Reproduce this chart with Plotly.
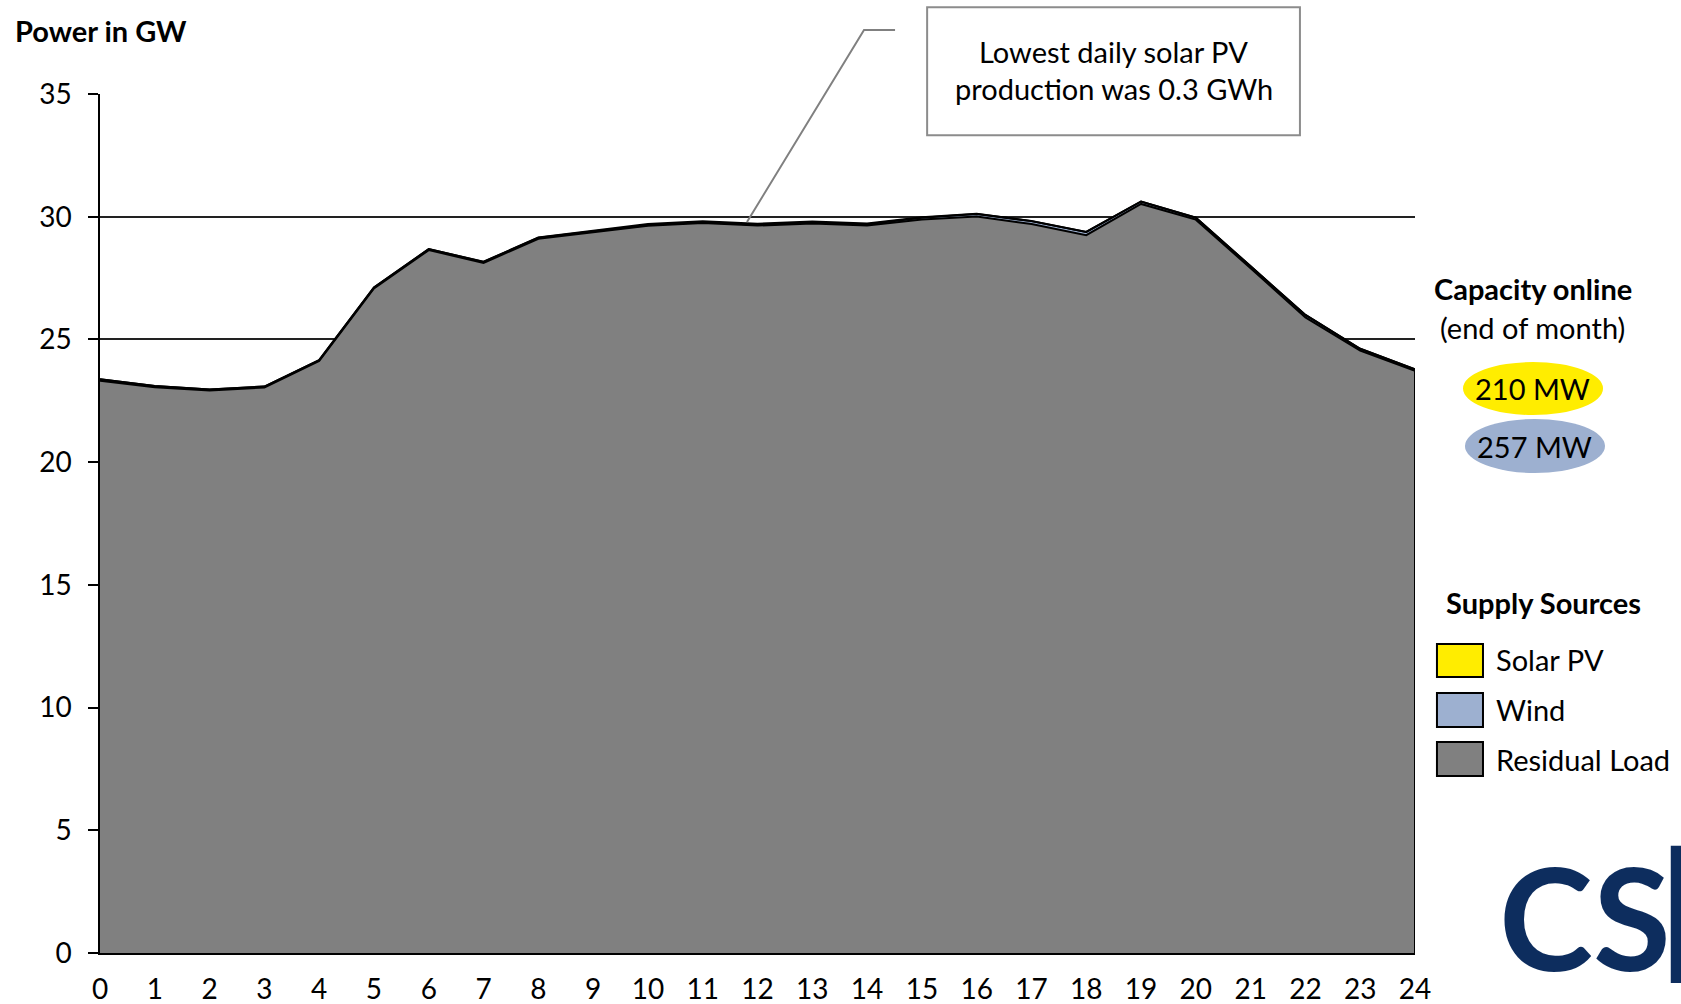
import plotly.graph_objects as go

hours = list(range(25))
tick_labels = [str(h) for h in hours]
residual = [23.32, 23.05, 22.92, 23.04, 24.12, 27.08, 28.64, 28.12, 29.10, 29.35, 29.63, 29.74, 29.64,
            29.72, 29.64, 29.89, 30.01, 29.70, 29.25, 30.52, 29.88, 27.90, 25.90, 24.54, 23.72]
wind = [0.06, 0.05, 0.04, 0.04, 0.04, 0.04, 0.04, 0.04, 0.04, 0.04, 0.03, 0.03, 0.03,
        0.04, 0.05, 0.07, 0.10, 0.12, 0.13, 0.10, 0.08, 0.08, 0.10, 0.08, 0.06]
solar = [0, 0, 0, 0, 0, 0, 0, 0.005, 0.015, 0.03, 0.04, 0.045, 0.045,
         0.04, 0.03, 0.02, 0.01, 0.003, 0, 0, 0, 0, 0, 0, 0]
y_ticks = [0, 5, 10, 15, 20, 25, 30, 35]

C_RES = "#808080"
C_WIND = "#9DB0D0"
C_SOLAR = "#FFED00"
C_LOGO = "#0d2d5e"
FONT = "Lato"
FS = 29

fig = go.Figure()
for name, vals, col in [("Residual Load", residual, C_RES), ("Wind", wind, C_WIND), ("Solar PV", solar, C_SOLAR)]:
    fig.add_trace(go.Scatter(x=hours, y=vals, name=name, stackgroup="one", mode="lines",
                             line=dict(color="black", width=2), fillcolor=col, showlegend=False,
                             hoverinfo="skip"))

top_last = residual[-1] + wind[-1] + solar[-1]
shapes = [
    dict(type="line", xref="x", yref="y", x0=hours[-1], x1=hours[-1], y0=0, y1=top_last,
         line=dict(color="black", width=2)),
    # callout line
    dict(type="path", xref="paper", yref="paper",
         path="M 0.6046 1.0745 L 0.581 1.0745 L 0.492 0.851",
         line=dict(color="#808080", width=2)),
    # callout box
    dict(type="rect", xref="paper", yref="paper", x0=0.629, x1=0.9125, y0=0.952, y1=1.1010,
         fillcolor="white", line=dict(color="#8c8c8c", width=2), layer="above"),
    # capacity ellipses
    dict(type="circle", xref="paper", yref="paper", x0=1.0365, x1=1.143, y0=0.6263, y1=0.688,
         fillcolor=C_SOLAR, line=dict(width=0)),
    dict(type="circle", xref="paper", yref="paper", x0=1.038, x1=1.1445, y0=0.5588, y1=0.6217,
         fillcolor=C_WIND, line=dict(width=0)),
    # sliver of the logo's last letter at the right edge
    dict(type="rect", xref="paper", yref="paper", x0=1.1945, x1=1.205, y0=-0.035, y1=0.125,
         fillcolor=C_LOGO, line=dict(width=0)),
]
leg_items = [("Solar PV", C_SOLAR, 0.3213, 0.3597, 0.3411),
             ("Wind", C_WIND, 0.2631, 0.3027, 0.2829),
             ("Residual Load", C_RES, 0.2061, 0.2456, 0.2247)]


def txt(text, x, y, xanchor="center", size=FS, **kw):
    return dict(text=text, xref="paper", yref="paper", x=x, y=y, xanchor=xanchor, yanchor="middle",
                showarrow=False, font=dict(size=size, color="black", **kw))


annotations = [
    txt("<b>Power in GW</b>", -0.0662, 1.0745, xanchor="left"),
    txt("Lowest daily solar PV", 0.771, 1.0495),
    txt("production was 0.3 GWh", 0.771, 1.0065),
    txt("<b>Capacity online</b>", 1.0897, 0.773),
    txt("(end of month)", 1.0897, 0.7276),
    txt("210 MW", 1.0897, 0.6566),
    txt("257 MW", 1.0912, 0.590),
    txt("<b>Supply Sources</b>", 1.098, 0.4075),
    dict(text="<b>CS</b>", xref="paper", yref="paper", x=1.0625, y=-0.058,
         xanchor="left", yanchor="bottom", showarrow=False,
         font=dict(size=142, color=C_LOGO, family="Lato")),
]
for name, col, y0, y1, yc in leg_items:
    shapes.append(dict(type="rect", xref="paper", yref="paper", x0=1.0167, x1=1.0517, y0=y0, y1=y1,
                       fillcolor=col, line=dict(color="black", width=2)))
    annotations.append(txt(name, 1.060, yc, xanchor="left"))

fig.update_layout(
    width=1681, height=1004,
    margin=dict(l=100, r=266, t=94, b=51, autoexpand=False),
    paper_bgcolor="white", plot_bgcolor="white",
    font=dict(family=FONT, size=FS, color="black"),
    shapes=shapes, annotations=annotations,
    xaxis=dict(range=[0, 24], tickmode="array", tickvals=hours, ticktext=tick_labels,
               showgrid=False, zeroline=False, showline=True, linecolor="black", linewidth=2,
               ticks="", ticklabelstandoff=10, tickfont=dict(size=28), automargin=False),
    yaxis=dict(range=[0, 35], tickmode="array", tickvals=y_ticks, ticktext=[str(v) for v in y_ticks],
               showgrid=True, gridcolor="#222222", gridwidth=1.5, zeroline=False,
               showline=True, linecolor="black", linewidth=1.5,
               ticks="outside", ticklen=10, tickcolor="black", tickwidth=1.5,
               ticklabelstandoff=11, tickfont=dict(size=28), automargin=False),
)

fig.write_html("out.html", config={"displayModeBar": False},
               post_script="document.body.style.margin='0';document.body.style.overflow='hidden';")
